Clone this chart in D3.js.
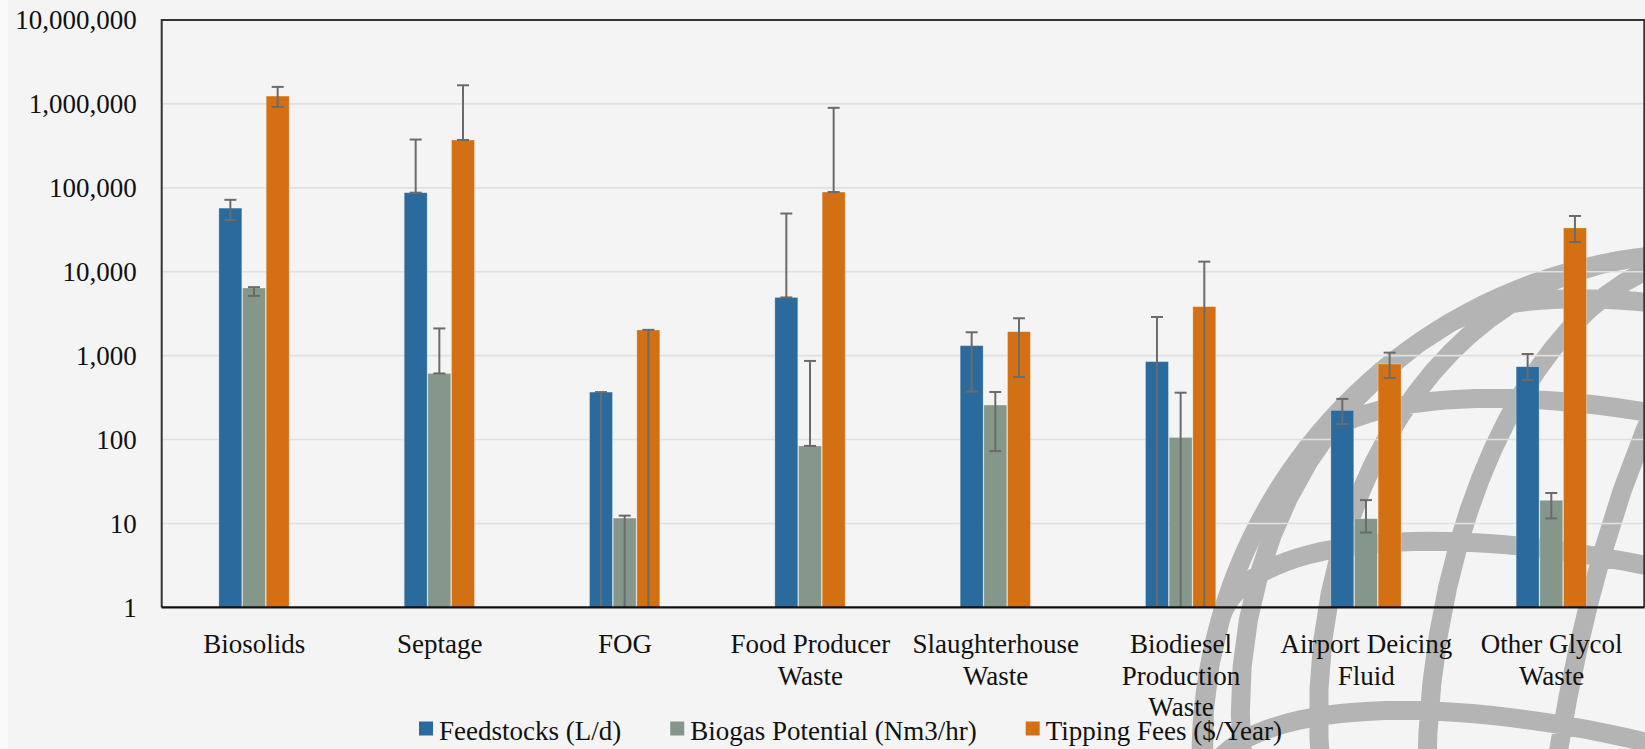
<!DOCTYPE html>
<html>
<head>
<meta charset="utf-8">
<script src="https://cdn.jsdelivr.net/npm/d3@7"></script>
<style>
  html, body { margin: 0; padding: 0; background: #f4f4f4; }
  svg { display: block; }
</style>
</head>
<body>
<svg id="chart" width="1645" height="749"></svg>
<script>
// Feedstock categories
const categories = [
  "Biosolids", "Septage", "FOG", "Food Producer Waste", "Slaughterhouse Waste",
  "Biodiesel Production Waste", "Airport Deicing Fluid", "Other Glycol Waste"
];
const seriesNames = ["Feedstocks (L/d)", "Biogas Potential (Nm3/hr)", "Tipping Fees ($/Year)"];

// Feedstocks (L/d): value, upper and lower error bounds (0 = bound below axis)
const feedstocks     = [57300, 87500, 368, 4940, 1316, 849, 223, 739];
const feedstocksHigh = [72000, 376000, 368, 49400, 1900, 2890, 305, 1047];
const feedstocksLow  = [41400, 87500, 0, 4940, 372, 0, 153, 513];

// Biogas Potential (Nm3/hr)
const biogas     = [6400, 614, 11.6, 84, 258, 106, 11.4, 18.9];
const biogasHigh = [6550, 2110, 12.4, 865, 369, 362, 19, 23.1];
const biogasLow  = [5150, 614, 0, 84, 73, 0, 7.8, 11.5];

// Tipping Fees ($/Year)
const tipping     = [1240000, 372000, 2025, 89100, 1932, 3840, 796, 33300];
const tippingHigh = [1595000, 1667000, 2030, 898000, 2790, 13200, 1086, 46200];
const tippingLow  = [922000, 372000, 0, 89100, 557, 0, 542, 22600];

const yTicks = [1, 10, 100, 1000, 10000, 100000, 1000000, 10000000];

const palette = ["#2b6a9c", "#84978a", "#d47014"];
const serif = "Liberation Serif, Times New Roman, serif";

const series = [
  { key: "feed",   name: seriesNames[0], values: feedstocks, high: feedstocksHigh, low: feedstocksLow },
  { key: "biogas", name: seriesNames[1], values: biogas,     high: biogasHigh,     low: biogasLow },
  { key: "tip",    name: seriesNames[2], values: tipping,    high: tippingHigh,    low: tippingLow }
];

const W = 1645, H = 749;
const plot = { left: 161.7, right: 1644.3, top: 20, bottom: 607.4 };
const svg = d3.select("#chart");

// background
svg.append("rect").attr("width", W).attr("height", H).attr("fill", "#f4f4f4");
svg.append("rect").attr("width", 8).attr("height", H).attr("fill", "#f9f9f9");

// globe watermark behind the chart
const globe = d3.geoOrthographic()
  .scale(505)
  .translate([1706, 758])
  .rotate([0, 20, -16])
  .clipAngle(90);
const globePath = d3.geoPath(globe);
const wm = svg.append("g").attr("fill", "none").attr("stroke", "#b4b4b4").attr("stroke-width", 19);
wm.append("path").datum(d3.geoGraticule().step([18, 20])()).attr("d", globePath);
wm.append("path").datum({ type: "Sphere" }).attr("d", globePath);

// scales
const x0 = d3.scaleBand().domain(categories).range([plot.left, plot.right])
  .paddingInner(0.617).paddingOuter(0.3085);
const x1 = d3.scaleBand().domain(series.map(s => s.key)).range([0, x0.bandwidth()]);
const y = d3.scaleLog().domain([1, 1e7]).range([plot.bottom, plot.top]);

// gridlines
svg.append("g").selectAll("line")
  .data(yTicks.filter(t => t > 1 && t < 1e7))
  .join("line")
  .attr("x1", plot.left).attr("x2", plot.right)
  .attr("y1", d => y(d)).attr("y2", d => y(d))
  .attr("stroke", "#e0e0e0").attr("stroke-width", 1.6);

// y axis labels
const yAxis = d3.axisLeft(y).tickValues(yTicks).tickFormat(d3.format(",")).tickSize(0).tickPadding(25);
const yg = svg.append("g").attr("transform", `translate(${plot.left},0)`).call(yAxis);
yg.select(".domain").remove();
yg.attr("font-family", serif).attr("font-size", 27);
yg.selectAll("text").attr("fill", "#111").attr("dy", "0.33em");

// bars
const groups = svg.append("g").selectAll("g")
  .data(series).join("g").attr("fill", (d, i) => palette[i]);
groups.selectAll("rect")
  .data(s => categories.map((c, i) => ({ c, v: s.values[i], key: s.key })))
  .join("rect")
  .attr("x", d => x0(d.c) + x1(d.key))
  .attr("width", x1.bandwidth() - 0.7)
  .attr("y", d => y(d.v))
  .attr("height", d => plot.bottom - y(d.v))
  .attr("stroke", "rgba(255,255,255,0.35)").attr("stroke-width", 0.8);

// error bars
const errData = [];
series.forEach(s => categories.forEach((c, i) => {
  errData.push({ cx: x0(c) + x1(s.key) + (x1.bandwidth() - 0.7) / 2, hi: s.high[i], lo: s.low[i] });
}));
const eg = svg.append("g").attr("stroke", "#6b6b6b").attr("stroke-width", 2);
eg.selectAll("line.stem").data(errData).join("line").attr("class", "stem")
  .attr("x1", d => d.cx).attr("x2", d => d.cx)
  .attr("y1", d => y(d.hi)).attr("y2", d => d.lo >= 1 ? y(d.lo) : plot.bottom);
eg.selectAll("line.capHi").data(errData).join("line").attr("class", "capHi")
  .attr("x1", d => d.cx - 6).attr("x2", d => d.cx + 6)
  .attr("y1", d => y(d.hi)).attr("y2", d => y(d.hi));
eg.selectAll("line.capLo").data(errData.filter(d => d.lo >= 1)).join("line").attr("class", "capLo")
  .attr("x1", d => d.cx - 6).attr("x2", d => d.cx + 6)
  .attr("y1", d => y(d.lo)).attr("y2", d => y(d.lo));

// frame and x axis
svg.append("path")
  .attr("d", `M${plot.left},${plot.bottom}V${plot.top}H${plot.right}V${plot.bottom}`)
  .attr("fill", "none").attr("stroke", "#333").attr("stroke-width", 2);
svg.append("line").attr("x1", plot.left).attr("x2", plot.right)
  .attr("y1", plot.bottom).attr("y2", plot.bottom)
  .attr("stroke", "#111").attr("stroke-width", 2.2);

// category labels, wrapped to the band step
const maxLabelWidth = 180;
const xl = svg.append("g").attr("font-family", serif).attr("font-size", 27)
  .attr("fill", "#111").attr("text-anchor", "middle");
categories.forEach(c => {
  const cx = x0(c) + x0.bandwidth() / 2;
  const t = xl.append("text").attr("x", cx).attr("y", 653);
  const words = c.split(" ");
  let line = [];
  let ts = t.append("tspan").attr("x", cx).attr("dy", 0);
  words.forEach(w => {
    line.push(w);
    ts.text(line.join(" "));
    if (ts.node().getComputedTextLength() > maxLabelWidth && line.length > 1) {
      line.pop();
      ts.text(line.join(" "));
      line = [w];
      ts = t.append("tspan").attr("x", cx).attr("dy", 31.5).text(w);
    }
  });
});

// legend
const lg = svg.append("g").attr("font-family", serif).attr("font-size", 27).attr("fill", "#111");
let lx = 419;
series.forEach((s, i) => {
  lg.append("rect").attr("x", lx).attr("y", 721.5).attr("width", 14).attr("height", 14).attr("fill", palette[i]);
  const t = lg.append("text").attr("x", lx + 20).attr("y", 740).text(s.name);
  lx += 20 + t.node().getComputedTextLength() + 49;
});
</script>
</body>
</html>
